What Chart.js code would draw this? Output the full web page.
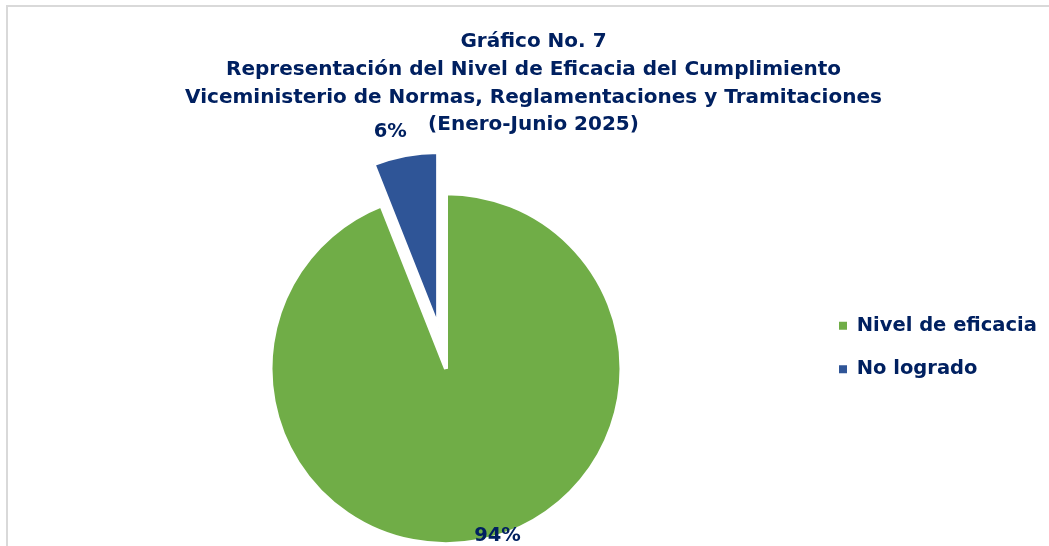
<!DOCTYPE html>
<html>
<head>
<meta charset="utf-8">
<title>Gráfico No. 7</title>
<script src="https://cdn.jsdelivr.net/npm/chart.js@4.4.1/dist/chart.umd.min.js"></script>
<style>
  html, body { margin: 0; padding: 0; background: #fff; overflow: hidden; }
  #wrap { position: relative; width: 1049px; height: 546px; overflow: hidden; }
  .rule { position: absolute; background: #d9d9d9; }
  #ruleTop { left: 6px; top: 5px; width: 1100px; height: 2px; }
  #ruleLeft { left: 6px; top: 5px; width: 2px; height: 600px; }
  #pieChart { position: absolute; left: 0; top: 0; }
</style>
</head>
<body>
<div id="wrap">
  <div class="rule" id="ruleTop"></div>
  <div class="rule" id="ruleLeft"></div>
  <canvas id="pieChart" width="1049" height="546"></canvas>
</div>
<script>
// datos del grafico
var categories = ['Nivel de eficacia', 'No logrado'];
var values = [94, 6];
var titleLines = [
  'Gráfico No. 7',
  'Representación del Nivel de Eficacia del Cumplimiento',
  'Viceministerio de Normas, Reglamentaciones y Tramitaciones',
  '(Enero-Junio 2025)'
];

var sliceColors = ['#70ad47', '#2f5597'];
var navy = '#002060';
var titleFont = '"DejaVu Sans", Verdana, sans-serif';

// Separa una porcion del centro (como el "explode" de Excel)
var explodePlugin = {
  id: 'explode',
  afterDatasetUpdate: function(chart, args, opts) {
    var arcs = chart.getDatasetMeta(args.index).data;
    arcs.forEach(function(arc, i) {
      var d = opts.distance[i] || 0;
      if (!d) return;
      var mid = (arc.startAngle + arc.endAngle) / 2;
      arc.x += Math.cos(mid) * d;
      arc.y += Math.sin(mid) * d;
    });
  }
};

// Etiquetas de porcentaje sobre cada porcion
var labelPlugin = {
  id: 'sliceLabels',
  afterDatasetsDraw: function(chart, args, opts) {
    var ctx = chart.ctx;
    var arcs = chart.getDatasetMeta(0).data;
    ctx.save();
    ctx.font = opts.font;
    ctx.fillStyle = opts.color;
    ctx.textAlign = 'center';
    ctx.textBaseline = 'middle';
    arcs.forEach(function(arc, i) {
      var mid = (arc.startAngle + arc.endAngle) / 2;
      var r = arc.outerRadius * opts.radius[i];
      var x = arc.x + Math.cos(mid) * r + opts.nudge[i][0];
      var y = arc.y + Math.sin(mid) * r + opts.nudge[i][1];
      ctx.fillText(values[i] + '%', x, y);
    });
    ctx.restore();
  }
};

// Mueve la leyenda a su sitio (y le da ancho para que no se corte el texto)
var legendShift = {
  id: 'legendShift',
  afterLayout: function(chart, args, opts) {
    var lg = chart.legend;
    lg.left += opts.x;
    lg.top += opts.y;
    lg.bottom += opts.y;
    lg.right = chart.width;
    lg.width = lg.right - lg.left;
  }
};

window.onload = function() {
  var ctx = document.getElementById('pieChart').getContext('2d');

  var pieChart = new Chart(ctx, {
    type: 'pie',
    data: {
      labels: categories,
      datasets: [{
        data: values,
        backgroundColor: sliceColors,
        borderColor: '#ffffff',
        borderWidth: 4,
        radius: 175.5,
        clip: false
      }]
    },
    plugins: [explodePlugin, labelPlugin, legendShift],
    options: {
      responsive: false,
      animation: false,
      layout: { padding: { left: 18, right: 0, top: 0, bottom: 0 } },
      plugins: {
        title: {
          display: true,
          text: titleLines,
          color: navy,
          font: { family: titleFont, size: 20, weight: 'bold', lineHeight: 1.386 },
          padding: { top: 28, bottom: 52.5 }
        },
        legend: {
          position: 'right',
          maxWidth: 175,
          labels: {
            color: navy,
            font: { family: titleFont, size: 19.5, weight: 'bold' },
            boxWidth: 8,
            boxHeight: 8,
            padding: 24,
            generateLabels: function(chart) {
              var items = Chart.overrides.doughnut.plugins.legend.labels.generateLabels(chart);
              items.forEach(function(it) { it.lineWidth = 0; });
              return items;
            }
          }
        },
        tooltip: { enabled: false },
        explode: { distance: [0, 42] },
        sliceLabels: {
          font: 'bold 19.5px ' + titleFont,
          color: navy,
          radius: [0.96, 1.15],
          nudge: [[20, 1.5], [-10, 2.5]]
        },
        legendShift: { x: -59, y: 74.5 }
      }
    }
  });
};
</script>
</body>
</html>
